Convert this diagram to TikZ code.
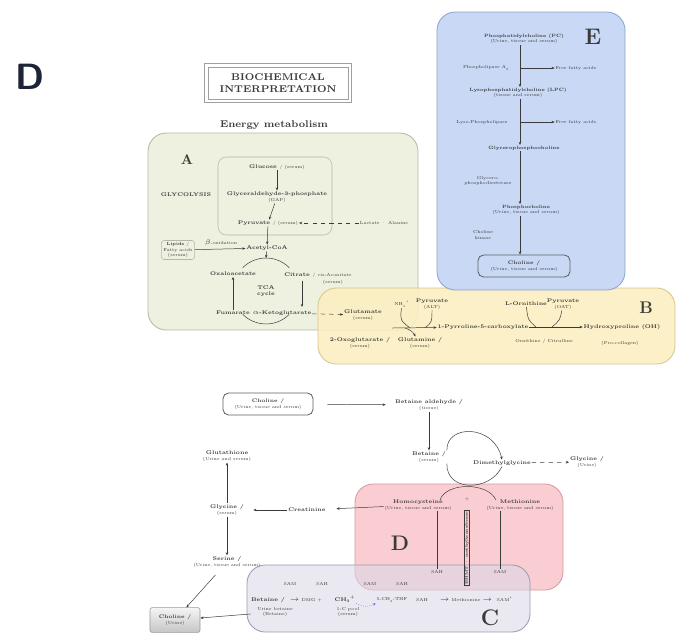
\documentclass[tikz,border=0pt]{standalone}
\usepackage{tikz}
\usetikzlibrary{arrows.meta}

\definecolor{txt}{HTML}{3A3A3A}
\definecolor{navy}{HTML}{1E2438}
\definecolor{fillA}{HTML}{EEF1E0}
\definecolor{lineA}{HTML}{B5B8A8}
\definecolor{fillB}{HTML}{FBEEC1}
\definecolor{lineB}{HTML}{D6C68E}
\definecolor{fillE}{HTML}{C5D6F4}
\definecolor{lineE}{HTML}{8FA3CF}
\definecolor{fillD}{HTML}{F7C1C5}
\definecolor{lineD}{HTML}{D49AA0}
\definecolor{fillC}{HTML}{DCD8E6}
\definecolor{lineC}{HTML}{9E9AAE}

\newcommand{\subtxt}[1]{{\fontsize{3.1}{3.7}\selectfont\mdseries #1}}

\tikzset{
  lbl/.style={font=\fontsize{3.8}{4.4}\selectfont\bfseries, inner sep=0.5pt, align=center},
  lblE/.style={font=\fontsize{3.3}{3.9}\selectfont\bfseries, inner sep=0.5pt, align=center},
  sub/.style={font=\fontsize{3.1}{3.7}\selectfont, inner sep=0.5pt, align=center},
  tag/.style={font=\fontsize{#1}{#1}\selectfont\bfseries, inner sep=0pt},
  panel/.style={rounded corners=13pt, line width=0.6pt},
  arr/.style={-{Stealth[length=2.2pt,width=1.8pt]}, line width=0.35pt, draw=txt},
  link/.style={line width=0.35pt, draw=txt},
  smallbox/.style={draw=lineA, rounded corners=2pt, line width=0.4pt, inner sep=1.5pt,
    align=center, font=\fontsize{3.1}{3.7}\selectfont},
  cbox/.style={draw=txt!80, rounded corners=4pt, line width=0.6pt, inner sep=1pt,
    align=center, font=\fontsize{3.6}{4.2}\selectfont\bfseries},
  vbox/.style={draw=txt, rotate=90, inner sep=0.7pt, font=\fontsize{2.8}{3}\selectfont\bfseries}
}

\begin{document}
\begin{tikzpicture}[x=0.025cm, y=-0.025cm]
		\tikzstyle{every node}=[text=txt]
		\useasboundingbox (0,0) rectangle (677,634);

		% panels
		\draw [panel, fill=fillA, draw=lineA] (148,133) rectangle (418,330);
		\draw [panel, fill=fillB, draw=lineB, fill opacity=0.9] (318,288) rectangle (675,364);
		\draw [panel, fill=fillE, draw=lineE, fill opacity=0.95] (437,12) rectangle (625,290);
		\draw [panel, fill=fillD, draw=lineD, fill opacity=0.8] (355,484) rectangle (563,590);
		\draw [panel, fill=fillC, draw=lineC, fill opacity=0.6] (247,565) rectangle (530,632);

		% header
		\node (bigD) [font=\fontsize{26}{26}\selectfont\sffamily\bfseries, text=navy] at (30,77) {D};
		\node (title) [draw=gray!75, line width=0.6pt, minimum width=3.5cm, minimum height=0.8cm,
			align=center, font=\fontsize{7}{8.5}\selectfont\bfseries] at (278,83) {BIOCHEMICAL\\INTERPRETATION};
		\draw [gray!75, line width=0.6pt] ([shift={(-2.2pt,2.2pt)}]title.north west)
			rectangle ([shift={(2.2pt,-2.2pt)}]title.south east);
		\node (energy) [font=\fontsize{7}{7}\selectfont\bfseries] at (274,125) {Energy metabolism};

		% panel A
		\node (tagA) [tag=10] at (187,160) {A};
		\draw [draw=lineA, rounded corners=6pt, line width=0.4pt] (218,157) rectangle (332,235);
		\node (glc) [lbl] at (277,167) {Glucose \subtxt{/ (serum)}};
		\node (gap) [lbl] at (277,197) {Glyceraldehyde-3-phosphate\\\subtxt{(GAP)}};
		\node (pyr) [lbl] at (268,223) {Pyruvate \subtxt{/ (serum)}};
		\node (lacala) [sub] at (384,223) {Lactate \textperiodcentered{} Alanine};
		\node (glyco) [lbl] at (186,195) {GLYCOLYSIS};
		\node (acoa) [lbl] at (267,248) {Acetyl-CoA};
		\node (lip) [smallbox] at (178,250) {\textbf{Lipids} /\\Fatty acids\\(serum)};
		\node (boxid) [sub] at (221,243) {$\beta$-oxidation};
		\draw [arr] (glc) -- (gap);
		\draw [arr] (gap) -- (pyr);
		\draw [arr] (pyr) -- (acoa);
		\draw [arr, dashed] (lacala) -- (pyr);
		\draw [arr] (lip) -- (acoa);

		% TCA cycle
		\node (tca) [lbl] at (266,291) {TCA\\cycle};
		\node (oaa) [lbl] at (233,274) {Oxaloacetate};
		\node (cit) [lbl] at (318,275) {Citrate \subtxt{/ cis-Aconitate}};
		\node (citsub) [sub] at (333,282) {(serum)};
		\node (fum) [lbl] at (233,313) {Fumarate};
		\node (akg) [lbl] at (282,313) {$\alpha$-Ketoglutarate};
		\coordinate (tcatop) at (266,258);
		\draw [link] (242.7,267.7) .. controls (255.6,254.8) and (276.4,254.8) .. (289.3,267.7);
		\draw [link] (289.3,314.3) .. controls (276.4,327.2) and (255.6,327.2) .. (242.7,314.3);
		\draw [arr] (acoa) -- (tcatop);
		\draw [arr] (fum) -- (oaa);
		\draw [arr] (302,281) -- (302,307);

		% panel B
		\node (tagB) [tag=12] at (646,308) {B};
		\node (glut) [lbl] at (363,315) {Glutamate\\\subtxt{(serum)}};
		\node (oxo) [lbl] at (360,343) {2-Oxoglutarate /\\\subtxt{(serum)}};
		\node (nh4) [sub] at (402,304) {NH\textsubscript{4}\textsuperscript{+}};
		\node (pyrb) [lbl] at (432,304) {Pyruvate\\\subtxt{(ALT)}};
		\node (gln) [lbl] at (420,343) {Glutamine /\\\subtxt{(serum)}};
		\node (p5c) [lbl] at (483,327) {1-Pyrroline-5-carboxylate};
		\node (orn) [lbl] at (526,304) {L-Ornithine};
		\node (pyrc) [lbl] at (563,304) {Pyruvate\\\subtxt{(OAT)}};
		\node (orncit) [sub] at (544,341) {Ornithine / Citrulline};
		\node (hyp) [lbl] at (622,327) {Hydroxyproline (OH)};
		\node (pro) [sub] at (620,343) {(Pro-collagen)};
		\coordinate (rx1) at (392,328);
		\draw [arr, dashed] (akg) -- (glut);
		\draw [arr] (rx1) -- (p5c);
		\draw [arr] (p5c) -- (hyp);
		\draw [link] (nh4) .. controls (400,320) .. (410,328);
		\draw [link] (pyrb) .. controls (432,322) .. (425,328);
		\draw [arr] (405,328) .. controls (412,331) .. (gln);
		\draw [link] (orn) .. controls (528,320) .. (536,327);
		\draw [link] (pyrc) .. controls (560,320) .. (552,327);

		% panel E
		\node (tagE) [tag=16] at (593,37) {E};
		\node (pc) [lblE] at (524,39) {Phosphatidylcholine (PC)\\\subtxt{(Urine, tissue and serum)}};
		\node (pla) [sub] at (486,68) {Phospholipase A\textsubscript{2}};
		\node (ffa1) [sub] at (576,68) {Free fatty acids};
		\node (lpc) [lblE] at (518,93) {Lysophosphatidylcholine (LPC)\\\subtxt{(tissue and serum)}};
		\node (lpl) [sub] at (482,122) {Lyso-Phospholipase};
		\node (ffa2) [sub] at (576,122) {Free fatty acids};
		\node (gpc) [lblE] at (524,148) {Glycerophosphocholine};
		\node (gpd) [sub] at (488,181) {Glycero-\\phosphodiesterase};
		\node (pch) [lblE] at (526,210) {Phosphocholine\\\subtxt{(Urine, tissue and serum)}};
		\node (chk) [sub] at (483,235) {Choline\\kinase};
		\node (chE) [cbox, minimum width=2.3cm, minimum height=0.55cm] at (524,266)
			{Choline /\\\subtxt{(Urine, tissue and serum)}};
		\coordinate (m1) at (520,68);
		\coordinate (m2) at (520,122);
		\draw [arr] (pc.south -| m1) -- (lpc.north -| m1);
		\draw [arr] (lpc.south -| m1) -- (gpc.north -| m1);
		\draw [arr] (gpc.south -| m1) -- (pch.north -| m1);
		\draw [arr] (pch.south -| m1) -- (chE.north -| m1);
		\draw [arr] (m1) -- (ffa1);
		\draw [arr] (m2) -- (ffa2);

		% choline / betaine pathway
		\node (chol) [cbox, minimum width=2.25cm, minimum height=0.55cm] at (268,404)
			{Choline /\\\subtxt{(Urine, tissue and serum)}};
		\node (bald) [lbl] at (429,405) {Betaine aldehyde /\\\subtxt{(tissue)}};
		\node (bet) [lbl] at (429,457) {Betaine /\\\subtxt{(serum)}};
		\node (dmg) [lbl] at (502,463) {Dimethylglycine};
		\node (sar) [lbl] at (587,462) {Glycine /\\\subtxt{(Urine)}};
		\draw [arr, shorten <=10pt, shorten >=6pt] (chol) -- (bald);
		\draw [arr] (bald) -- (bet);
		\draw [arr, dashed] (dmg) -- (sar);
		\draw [arr] (bet.north east) .. controls (446,424) and (494,424) .. (dmg.north);
		\draw [link] (bet.south east) .. controls (446,492) and (490,492) .. (dmg.south);

		% left column
		\node (gsh) [lbl] at (227,456) {Glutathione\\\subtxt{(Urine and serum)}};
		\node (gly) [lbl] at (227,510) {Glycine /\\\subtxt{(serum)}};
		\node (ser) [lbl] at (227,562) {Serine /\\\subtxt{(Urine, tissue and serum)}};
		\node (crtn) [lbl] at (307,510) {Creatinine};
		\node (ucho) [draw=gray!80, top color=gray!8, bottom color=gray!45, rounded corners=1.5pt,
			minimum width=1.25cm, minimum height=0.62cm, inner sep=0.5pt, align=center,
			font=\fontsize{3.6}{4.2}\selectfont\bfseries] at (175,620) {Choline /\\\subtxt{(Urine)}};
		\draw [arr] (gly) -- (gsh);
		\draw [arr] (gly) -- (ser);
		\draw [arr, shorten >=6pt] (crtn) -- (gly);
		\draw [arr, shorten <=6pt] (ser) -- (ucho);

		% panel D
		\node (tagD) [tag=15] at (400,543) {D};
		\node (hcy) [lbl] at (418,505) {Homocysteine\\\subtxt{(Urine, tissue and serum)}};
		\node (met) [lbl] at (520,505) {Methionine\\\subtxt{(Urine, tissue and serum)}};
		\node (plus) [sub] at (467,499) {+};
		\node (bhmt) [vbox] at (467,548) {BHMT \textperiodcentered{} methyltransferase};
		\node (sahd) [sub] at (437,572) {SAH};
		\node (samd) [sub] at (500,572) {SAM};
		\draw [link] (440,500) .. controls (446,482) and (488,482) .. (496,500);
		\draw [link] (sahd |- hcy.south) -- (sahd);
		\draw [link] (samd |- met.south) -- (samd);
		\draw [arr, shorten >=7pt] (hcy) -- (crtn);

		% panel C
		\node (tagC) [tag=16] at (490,618) {C};
		\node (samc1) [sub] at (290,584) {SAM};
		\node (sahc1) [sub] at (322,584) {SAH};
		\node (samc2) [sub] at (370,584) {SAM};
		\node (sahc2) [sub] at (402,584) {SAH};
		\node (betc) [lbl] at (268,600) {Betaine /};
		\node (dmgc) [sub] at (306,600) {$\rightarrow$ DMG +};
		\node (ch3) [lbl] at (345,599) {CH\textsubscript{3}\textsuperscript{+}};
		\node (thf) [sub] at (392,600) {5-CH\textsubscript{3}-THF};
		\node (sahc3) [sub] at (422,600) {SAH};
		\node (metc) [sub] at (466,600) {$\rightarrow$ Methionine $\rightarrow$};
		\node (samc3) [sub] at (505,599) {SAM\textsuperscript{+}};
		\node (ubet) [sub] at (275,612) {Urine betaine\\(Betaine)};
		\node (ch3s) [sub] at (348,612) {1-C pool\\(serum)};
		\draw [arr, draw=blue!60, densely dotted] (ch3.south east) to [bend right=30] (thf.south west);
		\draw [arr, shorten <=4pt] (ubet) -- (ucho);

	\end{tikzpicture}
\end{document}
